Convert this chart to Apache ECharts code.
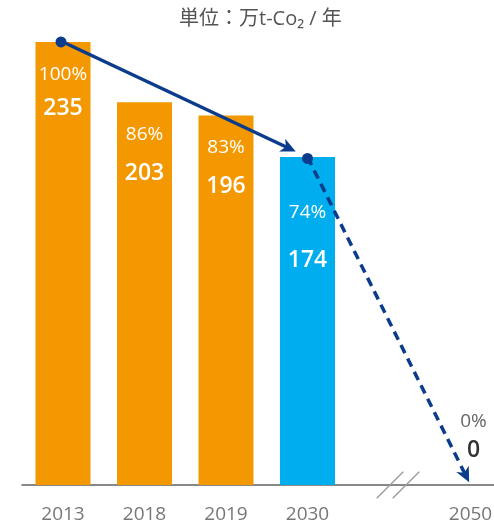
<!DOCTYPE html>
<html>
<head>
<meta charset="utf-8">
<script src="https://cdn.jsdelivr.net/npm/echarts@6/dist/echarts.min.js"></script>
<style>
html,body{margin:0;padding:0;background:#fff;}
#chart{width:494px;height:525px;}
</style>
</head>
<body>
<div id="chart"></div>
<script>
// ---- data ----
const categories = ['2013', '2018', '2019', '2030', '', '2050'];
const emissions = [235, 203, 196, 174, null, 0];
const shares = ['100%', '86%', '83%', '74%', '', '0%'];
const unitTitle = '単位：万t-Co₂ / 年';
const trendIdx = [0, 3, 5]; // points joined by the arrows
const breakIdx = 4;         // axis break position

// ---- styles ----
const FONT = '"Open Sans", "Noto Sans CJK JP", sans-serif';
const ORANGE = '#F39800';
const BLUE = '#00AEEF';
const NAVY = '#0B3C8C';
const barColors = [ORANGE, ORANGE, ORANGE, BLUE, ORANGE, ORANGE];
// label layout per bar: distance from bar top, line height of percent line
const labelLayout = [
  { d: 14, lp: 37 },
  { d: 8.5, lp: 48 },
  { d: 8.8, lp: 47 },
  { d: 24, lp: 64 },
  { d: 0, lp: 30 },
  { d: 20, lp: 26 }
];

const barData = emissions.map(function (v, i) {
  if (v === null) return '-';
  const L = labelLayout[i];
  const last = i === emissions.length - 1;
  return {
    value: v,
    itemStyle: { color: barColors[i] },
    label: {
      show: true,
      position: last ? 'top' : 'insideTop',
      distance: L.d,
      offset: last ? [3, 0] : [0, 0],
      formatter: '{p|' + shares[i] + '}\n{v|' + v + '}',
      rich: {
        p: { fontSize: 19, lineHeight: L.lp, color: last ? '#666' : '#fff', fontFamily: FONT, align: 'center' },
        v: { fontSize: 23, lineHeight: 30, color: last ? '#333' : '#fff', fontFamily: FONT, fontWeight: 600, align: 'center' }
      }
    }
  };
});

const segData = [];
for (let k = 0; k < trendIdx.length - 1; k++) {
  const a = trendIdx[k], b = trendIdx[k + 1];
  segData.push([a, emissions[a], b, emissions[b], k]);
}

function arrowHead(tip, dir, len, wid) {
  const px = -dir[1], py = dir[0];
  const bx = tip[0] - dir[0] * len, by = tip[1] - dir[1] * len;
  const nx = tip[0] - dir[0] * len * 0.72, ny = tip[1] - dir[1] * len * 0.72;
  return [tip, [bx + px * wid / 2, by + py * wid / 2], [nx, ny], [bx - px * wid / 2, by - py * wid / 2]];
}

function renderSeg(params, api) {
  const p1 = api.coord([api.value(0), api.value(1)]);
  const p2 = api.coord([api.value(2), api.value(3)]);
  const k = api.value(4);
  const dx = p2[0] - p1[0], dy = p2[1] - p1[1];
  const len = Math.sqrt(dx * dx + dy * dy);
  const dir = [dx / len, dy / len];
  const shorten = k === 0 ? 13 : 3;
  const tip = [p2[0] - dir[0] * shorten, p2[1] - dir[1] * shorten];
  const headLen = 15, headW = 14;
  const lineEnd = [tip[0] - dir[0] * headLen * 0.7, tip[1] - dir[1] * headLen * 0.7];
  const children = [
    {
      type: 'line',
      shape: { x1: p1[0], y1: p1[1], x2: lineEnd[0], y2: lineEnd[1] },
      style: { stroke: NAVY, lineWidth: 3.5, lineDash: k === 0 ? null : [9, 6], lineCap: 'butt' }
    },
    {
      type: 'polygon',
      shape: { points: arrowHead(tip, dir, headLen, headW) },
      style: { fill: NAVY }
    },
    {
      type: 'circle',
      shape: { cx: p1[0] - (k === 0 ? 2 : 0), cy: p1[1] + (k === 0 ? 0 : 1.5), r: 5.5 },
      style: { fill: NAVY }
    }
  ];
  return { type: 'group', children: children };
}

function renderBreak(params, api) {
  const c = api.coord([api.value(0), 0]);
  const mk = function (ox) {
    return {
      type: 'line',
      shape: { x1: c[0] + ox - 13.3, y1: c[1] + 13.3, x2: c[0] + ox + 13.3, y2: c[1] - 13.3 },
      style: { stroke: '#999', lineWidth: 1.3 }
    };
  };
  return { type: 'group', children: [mk(1), mk(17)] };
}

const chart = echarts.init(document.getElementById('chart'), null, { renderer: 'canvas' });
chart.setOption({
  animation: false,
  backgroundColor: '#fff',
  title: {
    text: unitTitle,
    left: 179,
    top: 9,
    padding: 0,
    textStyle: { fontSize: 20, fontWeight: 'normal', color: '#555', fontFamily: FONT }
  },
  grid: { left: 22.25, width: 489, top: 13.7, height: 471.3, containLabel: false, outerBoundsMode: 'none' },
  xAxis: {
    type: 'category',
    data: categories,
    axisTick: { show: false },
    axisLine: { lineStyle: { color: '#888', width: 2 } },
    axisLabel: { color: '#777', fontSize: 19, margin: 20, fontFamily: FONT, hideOverlap: false }
  },
  yAxis: { type: 'value', min: 0, max: 250, show: false, splitLine: { show: false } },
  series: [
    {
      type: 'bar',
      data: barData,
      barWidth: 55,
      z: 2
    },
    {
      type: 'custom',
      data: [[breakIdx]],
      encode: { x: 0 },
      renderItem: renderBreak,
      z: 3,
      silent: true
    },
    {
      type: 'custom',
      data: segData,
      encode: { x: [0, 2], y: [1, 3] },
      renderItem: renderSeg,
      z: 5,
      silent: true
    }
  ]
});
</script>
</body>
</html>
